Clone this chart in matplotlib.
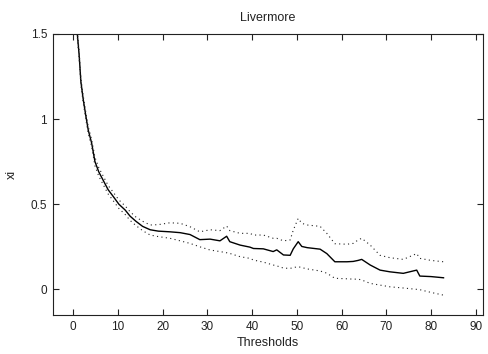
import matplotlib
matplotlib.use("Agg")
import matplotlib.pyplot as plt

plt.rcParams['font.family'] = ['Liberation Sans', 'DejaVu Sans']

thresholds = [0.5, 0.9, 1.3, 1.7, 2.2, 2.8, 3.35, 4.1, 4.85, 5.7, 6.7, 7.8, 8.95, 10.2,
              11.6, 12.7, 14, 15.5, 17.2, 19, 21.6, 23.9, 26.1, 28.3, 30.6, 32.8, 34.3,
              35, 37.3, 39.5, 40.3, 42.5, 44.7, 45.5, 47, 48.5, 49.2, 50.3, 51.1, 52.3,
              55.2, 56.7, 58.5, 61.2, 62.6, 63.7, 64.5, 66.4, 68.6, 70.8, 73.8, 76.8,
              77.5, 80, 82.8]

xi_mean = [1.6, 1.50, 1.38, 1.22, 1.12, 1.02, 0.935, 0.86, 0.75, 0.69, 0.64, 0.585, 0.545,
           0.50, 0.466, 0.43, 0.40, 0.37, 0.35, 0.342, 0.338, 0.333, 0.322, 0.292, 0.295,
           0.285, 0.312, 0.28, 0.26, 0.248, 0.24, 0.238, 0.222, 0.232, 0.202, 0.20, 0.238,
           0.28, 0.252, 0.245, 0.236, 0.21, 0.162, 0.162, 0.164, 0.17, 0.176, 0.143, 0.113,
           0.103, 0.094, 0.113, 0.078, 0.075, 0.068]

xi_upper = [1.62, 1.52, 1.40, 1.24, 1.14, 1.04, 0.955, 0.88, 0.775, 0.715, 0.665, 0.61, 0.57,
            0.525, 0.49, 0.456, 0.425, 0.40, 0.378, 0.38, 0.391, 0.388, 0.368, 0.338, 0.35,
            0.345, 0.372, 0.345, 0.329, 0.329, 0.319, 0.319, 0.30, 0.30, 0.285, 0.29, 0.348,
            0.417, 0.388, 0.378, 0.37, 0.329, 0.268, 0.265, 0.27, 0.29, 0.30, 0.26, 0.20,
            0.186, 0.176, 0.21, 0.182, 0.17, 0.162]

xi_lower = [1.58, 1.48, 1.36, 1.20, 1.10, 1.0, 0.915, 0.84, 0.725, 0.665, 0.615, 0.56, 0.52,
            0.475, 0.44, 0.405, 0.375, 0.345, 0.319, 0.31, 0.30, 0.285, 0.27, 0.25, 0.231,
            0.222, 0.215, 0.211, 0.192, 0.182, 0.172, 0.16, 0.143, 0.138, 0.125, 0.123, 0.128,
            0.133, 0.128, 0.12, 0.108, 0.095, 0.065, 0.062, 0.06, 0.06, 0.055, 0.035, 0.025,
            0.015, 0.008, 0.0, -0.002, -0.018, -0.034]

xticks = [0, 10, 20, 30, 40, 50, 60, 70, 80, 90]
yticks = [0, 0.5, 1, 1.5]
ytick_labels = ['0', '0.5', '1', '1.5']

fig = plt.figure(figsize=(4.89, 3.54), dpi=100)
ax = fig.add_axes([0.1078, 0.110, 0.8806, 0.794])

ax.plot(thresholds, xi_mean, color='black', linewidth=1.0)
ax.plot(thresholds, xi_upper, color='#222222', linewidth=0.8, linestyle=(0, (1, 3)))
ax.plot(thresholds, xi_lower, color='#222222', linewidth=0.8, linestyle=(0, (1, 3)))

ax.set_xlim(-4.6, 91.7)
ax.set_ylim(-0.151, 1.5)
ax.set_xticks(xticks)
ax.set_yticks(yticks)
ax.set_yticklabels(ytick_labels)
ax.tick_params(direction='in', length=4, width=0.8, top=True, right=True,
               labelsize=8.5, pad=4, colors='#222222')
for s in ax.spines.values():
    s.set_linewidth(0.8)
    s.set_color('#222222')

ax.set_title('Livermore', fontsize=9, pad=9, color='#222222')
ax.set_xlabel('Thresholds', fontsize=9, labelpad=3, color='#222222')
ax.set_ylabel('xi', fontsize=9, labelpad=9, color='#222222')

fig.savefig('out.png', dpi=100)
